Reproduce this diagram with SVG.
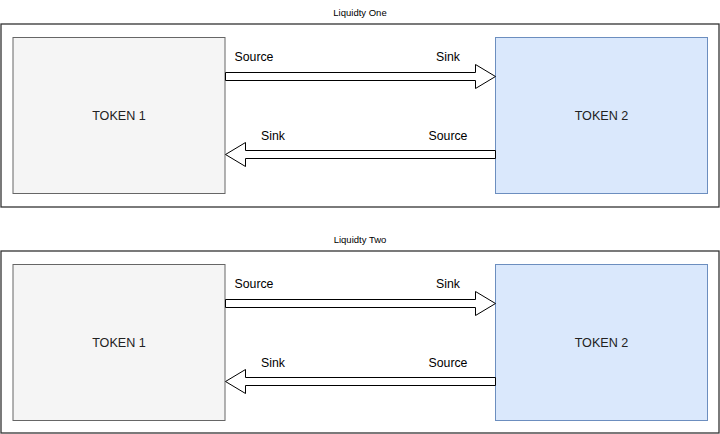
<svg xmlns="http://www.w3.org/2000/svg" width="720" height="434" viewBox="0 0 720 434">
<defs>
<style>
.frame{fill:#fff;stroke:#333;stroke-width:1.3}
.t1{fill:#f5f5f5;stroke:#666;stroke-width:1}
.t2{fill:#dae8fc;stroke:#6c8ebf;stroke-width:1}
.arrow{fill:#fff;stroke:#000;stroke-width:1}
.title{font-family:"Liberation Sans",Arial,sans-serif;font-size:9.5px;fill:#000;text-anchor:middle}
.lbl{font-family:"Liberation Sans",Arial,sans-serif;font-size:12.3px;fill:#000}
.tok{font-family:"Liberation Sans",Arial,sans-serif;font-size:12.6px;fill:#222;text-anchor:middle}
</style>
</defs>
<rect width="720" height="434" fill="#fff"/>
<g id="panel-one">
<text class="title" x="360" y="16">Liquidty One</text>
<rect id="frame-one" class="frame" x="1" y="24" width="718" height="183"/>
<g id="token1-one"><rect class="t1" x="13" y="37.5" width="212" height="156"/><text class="tok" x="119" y="120">TOKEN 1</text></g>
<g id="token2-one"><rect class="t2" x="495.5" y="37.5" width="212" height="156"/><text class="tok" x="601.5" y="120">TOKEN 2</text></g>
<g id="connectors-one">
<path class="arrow" d="M225.5,72.5 L475.5,72.5 L475.5,64.5 L495.5,76.5 L475.5,88.5 L475.5,80.5 L225.5,80.5 Z"/>
<path class="arrow" d="M495.5,150.5 L245.5,150.5 L245.5,142.5 L225.5,154.5 L245.5,166.5 L245.5,158.5 L495.5,158.5 Z"/>
<text class="lbl" x="234.5" y="61">Source</text>
<text class="lbl" x="436" y="61">Sink</text>
<text class="lbl" x="261" y="140">Sink</text>
<text class="lbl" x="428.5" y="140">Source</text>
</g>
</g>
<g id="panel-two" transform="translate(0,227)">
<text class="title" x="360" y="16">Liquidty Two</text>
<rect id="frame-two" class="frame" x="1" y="24" width="718" height="182"/>
<g id="token1-two"><rect class="t1" x="13" y="37.5" width="212" height="156"/><text class="tok" x="119" y="120">TOKEN 1</text></g>
<g id="token2-two"><rect class="t2" x="495.5" y="37.5" width="212" height="156"/><text class="tok" x="601.5" y="120">TOKEN 2</text></g>
<g id="connectors-two">
<path class="arrow" d="M225.5,72.5 L475.5,72.5 L475.5,64.5 L495.5,76.5 L475.5,88.5 L475.5,80.5 L225.5,80.5 Z"/>
<path class="arrow" d="M495.5,150.5 L245.5,150.5 L245.5,142.5 L225.5,154.5 L245.5,166.5 L245.5,158.5 L495.5,158.5 Z"/>
<text class="lbl" x="234.5" y="61">Source</text>
<text class="lbl" x="436" y="61">Sink</text>
<text class="lbl" x="261" y="140">Sink</text>
<text class="lbl" x="428.5" y="140">Source</text>
</g>
</g>
</svg>
